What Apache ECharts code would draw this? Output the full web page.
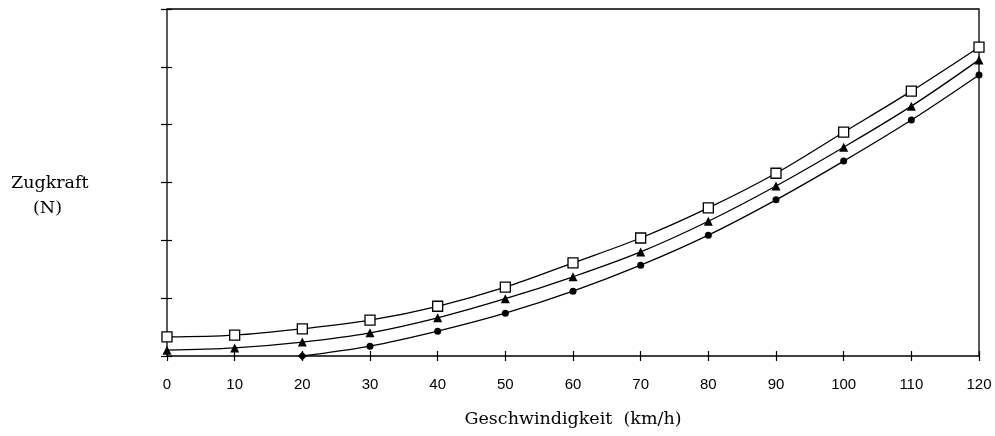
<!DOCTYPE html>
<html>
<head>
<meta charset="utf-8">
<script src="https://cdn.jsdelivr.net/npm/echarts@6/dist/echarts.min.js"></script>
<style>html,body{margin:0;padding:0;background:#fff}#c{width:995px;height:436px}</style>
</head>
<body>
<div id="c"></div>
<script>
var speeds = [0, 10, 20, 30, 40, 50, 60, 70, 80, 90, 100, 110, 120];
var squares = [0.33, 0.36, 0.47, 0.62, 0.86, 1.19, 1.61, 2.04, 2.56, 3.16, 3.87, 4.58, 5.34];
var triangles = [0.10, 0.14, 0.24, 0.40, 0.66, 0.99, 1.37, 1.80, 2.33, 2.94, 3.61, 4.32, 5.12];
var circles = [null, null, 0, 0.17, 0.43, 0.74, 1.12, 1.57, 2.09, 2.70, 3.37, 4.08, 4.86];
var yLabel = ['Zugkraft', '(N)'];
var xLabel = 'Geschwindigkeit  (km/h)';

function pairs(vals, firstSymbol) {
  var out = [];
  for (var i = 0; i < speeds.length; i++) {
    if (vals[i] === null) continue;
    var p = { value: [speeds[i], vals[i]] };
    if (firstSymbol && out.length === 0) { p.symbol = firstSymbol; p.symbolSize = 9; }
    out.push(p);
  }
  return out;
}

var GL = 167, GR = 16, GT = 9, GB = 80, HALF = 5;

var chart = echarts.init(document.getElementById('c'), null, { renderer: 'canvas' });
var tickStyle = { color: '#000', width: 1.2 };
chart.setOption({
  animation: false,
  backgroundColor: '#fff',
  grid: { left: GL, right: GR, top: GT, bottom: GB, show: true, borderColor: '#000', borderWidth: 1.3, backgroundColor: 'transparent' },
  xAxis: {
    type: 'value', min: 0, max: 120, interval: 10, position: 'bottom', offset: -HALF,
    axisLine: { show: false, onZero: false },
    axisTick: { show: true, length: 2 * HALF, lineStyle: tickStyle },
    axisLabel: { color: '#000', fontFamily: 'Liberation Sans', fontSize: 15, margin: 21 + HALF },
    splitLine: { show: false },
    name: xLabel, nameLocation: 'middle', nameGap: 54 + HALF,
    nameTextStyle: { color: '#000', fontFamily: 'DejaVu Serif', fontSize: 17.5 }
  },
  yAxis: {
    type: 'value', min: 0, max: 6, interval: 1, position: 'left', offset: -HALF,
    axisLine: { show: false, onZero: false },
    axisTick: { show: true, length: 2 * HALF + 1, lineStyle: tickStyle },
    axisLabel: { show: false }, splitLine: { show: false }
  },
  graphic: [{
    type: 'text', left: 11, top: 174,
    style: { text: yLabel[0], fill: '#000', font: '17.5px "DejaVu Serif"' }
  }, {
    type: 'text', left: 33, top: 199,
    style: { text: yLabel[1], fill: '#000', font: '17.5px "DejaVu Serif"' }
  }],
  series: [{
    type: 'line', smooth: 0.35, data: pairs(squares), symbol: 'rect', symbolSize: 10,
    lineStyle: { color: '#000', width: 1.3 },
    itemStyle: { color: '#fff', borderColor: '#000', borderWidth: 1.3 }, z: 5
  }, {
    type: 'line', smooth: 0.35, data: pairs(triangles), symbol: 'triangle', symbolSize: 9,
    lineStyle: { color: '#000', width: 1.3 },
    itemStyle: { color: '#000', borderColor: '#000', borderWidth: 0 }, z: 4
  }, {
    type: 'line', smooth: 0.35, data: pairs(circles, 'diamond'), symbol: 'circle', symbolSize: 7,
    lineStyle: { color: '#000', width: 1.3 },
    itemStyle: { color: '#000', borderColor: '#000', borderWidth: 0 }, z: 3
  }]
});
</script>
</body>
</html>
